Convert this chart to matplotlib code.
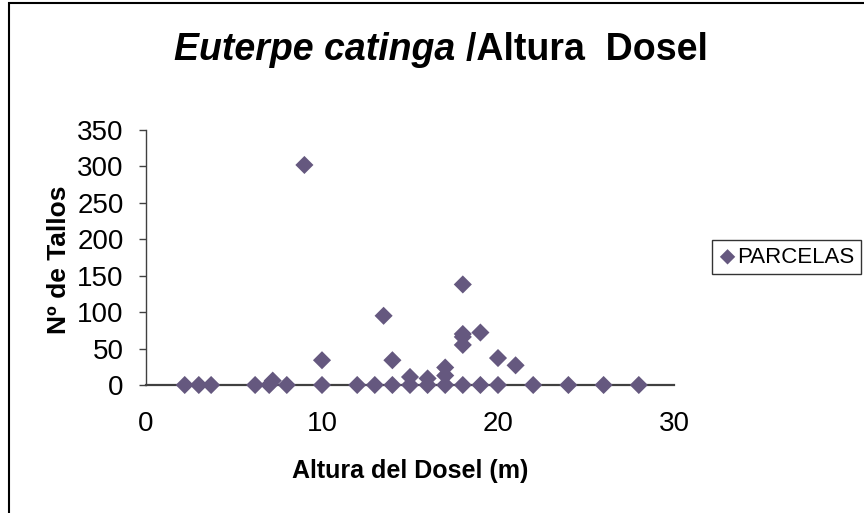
import matplotlib
matplotlib.use("Agg")
import matplotlib.pyplot as plt
from matplotlib.patches import Rectangle

plt.rcParams['font.family'] = ['Liberation Sans', 'DejaVu Sans']

# Data
altura = [2.2, 3, 3.7, 6.2, 7, 7.2, 8, 9, 10, 10, 12, 13, 13.5, 14, 14,
          15, 15, 16, 16, 17, 17, 17, 18, 18, 18, 18, 18, 19, 19, 20, 20,
          21, 22, 24, 26, 28]
tallos = [0, 0, 0, 0, 0, 6, 0, 302, 0, 34, 0, 0, 95, 34, 0,
          11, 0, 9, 0, 24, 13, 0, 138, 70, 66, 55, 0, 72, 0, 37, 0,
          27, 0, 0, 0, 0]
serie = "PARCELAS"
x_ticks = [0, 10, 20, 30]
y_ticks = [0, 50, 100, 150, 200, 250, 300, 350]

W, H = 864, 513
fig = plt.figure(figsize=(W / 100, H / 100), dpi=100)

# outer chart border
fig.patches.append(Rectangle((9 / W, -0.05), 1.2, 1 - 3.5 / H + 0.05,
                             transform=fig.transFigure, fill=False,
                             edgecolor='black', linewidth=1.5))

ax = fig.add_axes([146 / W, 1 - 385 / H, (674 - 146) / W, (385 - 130) / H])
ax.scatter(altura, tallos, marker='D', s=85, color='#65587F',
           edgecolors='none', label=serie, zorder=3, clip_on=False)

ax.set_xlim(0, 30)
ax.set_ylim(0, 350)
ax.set_xticks(x_ticks)
ax.set_yticks(y_ticks)
ax.tick_params(axis='x', length=0, labelsize=20, pad=19)
ax.set_xticks([0, 30], minor=True)
ax.tick_params(axis='x', which='minor', length=7, width=1.2, color='#404040')
ax.tick_params(axis='y', length=5, width=1, color='#404040', labelsize=20, pad=11)
for s in ['top', 'right']:
    ax.spines[s].set_visible(False)
ax.spines['left'].set_color('#404040')
ax.spines['bottom'].set_color('#404040')
ax.spines['bottom'].set_linewidth(1.6)
ax.spines['left'].set_linewidth(1.0)

ax.set_xlabel('Altura del Dosel (m)', fontsize=18, fontweight='bold')
ax.xaxis.set_label_coords(0.5, -0.29)
ax.set_ylabel('Nº de Tallos', fontsize=19, fontweight='bold')
ax.yaxis.set_label_coords((71 - 146) / (674 - 146), 0.49)

# Title with italic species name
split_x = 466 / W
ty = 1 - 60 / H
fig.text(split_x, ty, 'Euterpe catinga ', fontsize=27, fontweight='bold',
         fontstyle='italic', ha='right', va='baseline')
fig.text(split_x, ty, '/Altura  Dosel', fontsize=27, fontweight='bold',
         ha='left', va='baseline')

leg = ax.legend(loc='upper left', bbox_to_anchor=(712 / W, 1 - 240 / H),
                bbox_transform=fig.transFigure, frameon=True, fancybox=False,
                edgecolor='black', fontsize=16, handletextpad=0.05,
                borderpad=0.3, handlelength=0.8, markerscale=0.85,
                borderaxespad=0)
leg.get_frame().set_linewidth(1.0)

fig.savefig('out.png', dpi=100)
